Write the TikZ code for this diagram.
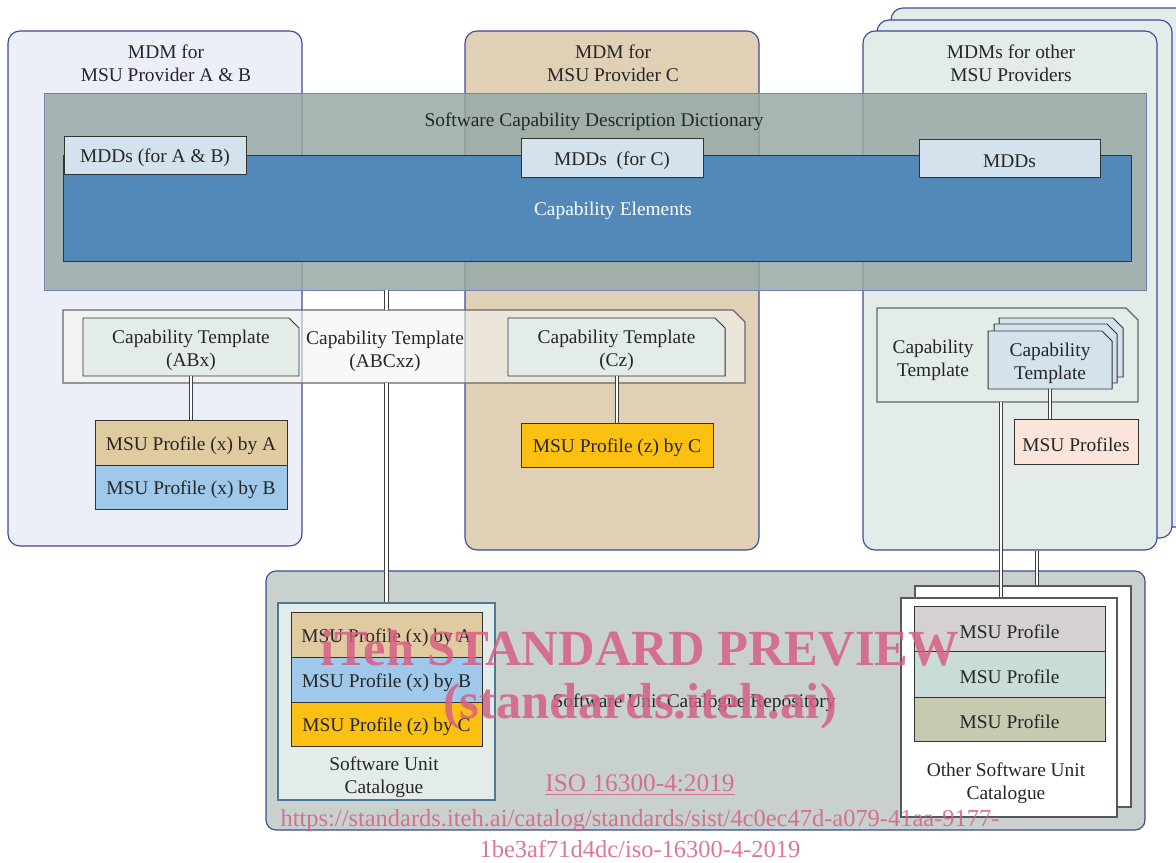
\documentclass[tikz,border=0pt]{standalone}
\usepackage{fontspec}
\setmainfont{Liberation Serif}
\usetikzlibrary{positioning,calc}

\definecolor{mdmline}{RGB}{62,72,150}
\definecolor{mdmabfill}{RGB}{236,239,247}
\definecolor{mdmcfill}{RGB}{224,208,182}
\definecolor{mdmofill}{RGB}{227,236,232}
\definecolor{dictfill}{RGB}{151,170,166}
\definecolor{capfill}{RGB}{82,137,184}
\definecolor{mddfill}{RGB}{211,226,236}
\definecolor{stripfill}{RGB}{244,245,242}
\definecolor{ctfill}{RGB}{227,236,232}
\definecolor{profa}{RGB}{224,203,160}
\definecolor{profb}{RGB}{159,200,234}
\definecolor{profc}{RGB}{251,192,18}
\definecolor{profs}{RGB}{251,229,218}
\definecolor{repofill}{RGB}{200,209,206}
\definecolor{sucline}{RGB}{75,122,155}
\definecolor{opa}{RGB}{213,209,208}
\definecolor{opb}{RGB}{201,220,215}
\definecolor{opc}{RGB}{199,202,177}
\definecolor{wmark}{RGB}{214,96,132}

% box from corner pixels: name, x1, y1, x2, y2, style, text
\newcommand\bx[7]{\node[#6,minimum width={(#4-#2)*0.025cm},minimum height={(#5-#3)*0.025cm}] (#1) at ({(#2+#4)/2},{(#3+#5)/2}) {};
  \node (#1-t) at ($(#1.center)+(0,3)$) {#7};}
% same with the top right corner cut off: name, x1, y1, x2, y2, cut, style, text
\newcommand\cbx[8]{\path[#7] (#2,#3) -- (#4-#6,#3) -- (#4,#3+#6) -- (#4,#5) -- (#2,#5) -- cycle;
  \bx{#1}{#2}{#3}{#4}{#5}{}{#8}}

\begin{document}
\begin{tikzpicture}[x=0.025cm,y=-0.025cm,
  every node/.style={font=\fontsize{13.8}{16.3}\selectfont,align=center,inner sep=0pt,text=black!85},
  mdm/.style={draw=mdmline,line width=0.8pt,rounded corners=0.3cm},
  box/.style={draw=black!80,line width=0.7pt},
  tpl/.style={draw=black!80,line width=0.7pt,fill=ctfill},
  link/.style={draw=black!75,double=white,double distance=1.9pt,line width=0.6pt},
  wm/.style={text=wmark,text opacity=0.85}]
\useasboundingbox (0,0) rectangle (1176,862);

% MDMs
\bx{mdmob}{891}{8}{1192}{527}{mdm,fill=mdmofill}{}
\bx{mdmom}{877}{20}{1172}{538}{mdm,fill=mdmofill}{}
\bx{mdmo}{863}{31}{1157}{550}{mdm,fill=mdmofill}{}
\bx{mdmab}{8}{31}{302}{546}{mdm,fill=mdmabfill}{}
\bx{mdmc}{465}{31}{759}{550}{mdm,fill=mdmcfill}{}
\node (mdmab-h) at (166,63) {MDM for\\MSU Provider A \& B};
\node (mdmc-h) at (613,63) {MDM for\\MSU Provider C};
\node (mdmo-h) at (1011,63) {MDMs for other\\MSU Providers};

% dictionary
\bx{dict}{44}{93}{1146}{290}{draw=mdmline!70,line width=0.6pt,fill=dictfill,fill opacity=0.85}{}
\node (dict-h) at (594,122) {Software Capability Description Dictionary};
\bx{capel}{63}{155}{1131}{261}{box,fill=capfill}{}
\node[text=white] (capel-h) at (613,211) {Capability Elements};
\bx{mdd1}{64}{136}{246}{174}{box,fill=mddfill}{MDDs (for A \& B)}
\bx{mdd2}{521}{138}{703}{177}{box,fill=mddfill}{MDDs~ (for C)}
\bx{mdd3}{919}{139}{1100}{177}{box,fill=mddfill}{MDDs}

% capability templates
\cbx{strip}{63}{310}{745}{383}{12}{draw=black!60,line width=0.9pt,fill=stripfill,fill opacity=0.6}{}
\node (strip-h) at (385,351) {Capability Template\\(ABCxz)};
\cbx{ctab}{83}{318}{299}{376}{10}{tpl}{Capability Template\\(ABx)}
\cbx{ctc}{508}{318}{725}{376}{10}{tpl}{Capability Template\\(Cz)}
\cbx{ctout}{877}{308}{1138}{402}{12}{draw=black!60,line width=0.9pt,fill=ctfill}{}
\node (ctout-h) at (933,360) {Capability\\Template};
\cbx{ctst3}{999}{318}{1123}{377}{10}{tpl,fill=mddfill}{}
\cbx{ctst2}{994}{324}{1117}{383}{10}{tpl,fill=mddfill}{}
\cbx{ctst}{988}{331}{1112}{389}{10}{tpl,fill=mddfill}{Capability\\Template}

% MSU profiles
\bx{profA}{95}{420}{287}{465}{box,fill=profa}{MSU Profile (x) by A}
\bx{profB}{95}{465}{287}{509}{box,fill=profb}{MSU Profile (x) by B}
\bx{profC}{521}{423}{713}{467}{box,fill=profc}{MSU Profile (z) by C}
\bx{msup}{1014}{419}{1138}{464}{box,fill=profs}{MSU Profiles}

% repository
\bx{repo}{266}{571}{1145}{830}{mdm,rounded corners=0.25cm,fill=repofill}{}
\node (repo-h) at (694,703) {Software Unit Catalogue Repository};
\bx{suc}{278}{603}{495}{800}{draw=sucline,line width=0.8pt,fill=ctfill}{}
\node (suc-h) at (384,777) {Software Unit\\Catalogue};
\bx{sucA}{291}{612}{482}{657}{box,fill=profa}{MSU Profile (x) by A}
\bx{sucB}{291}{657}{482}{702}{box,fill=profb}{MSU Profile (x) by B}
\bx{sucC}{291}{702}{482}{746}{box,fill=profc}{MSU Profile (z) by C}
\bx{osucb}{915}{586}{1131}{807}{draw=black!65,line width=0.8pt,fill=white}{}
\bx{osuc}{901}{598}{1117}{817}{draw=black!65,line width=0.8pt,fill=white}{}
\node (osuc-h) at (1006,783) {Other Software Unit\\Catalogue};
\bx{op1}{914}{606}{1105}{651}{box,fill=opa}{MSU Profile}
\bx{op2}{914}{651}{1105}{697}{box,fill=opb}{MSU Profile}
\bx{op3}{914}{697}{1105}{741}{box,fill=opc}{MSU Profile}

% links
\draw[link] (suc.north |- dict.south) -- (suc.north |- strip.north);
\draw[link] (suc.north |- strip.south) -- (suc.north);
\draw[link] (ctab.south -| profA.north) -- (profA.north);
\draw[link] (ctc.south -| profC.north) -- (profC.north);
\draw[link] (ctst.south) -- (ctst.south |- msup.north);
\draw[link] ($(ctout.south -| osuc.north)+(-8,0)$) -- ($(osuc.north)+(-8,0)$);
\draw[link] ($(mdmo.south -| osucb.north)+(14,0)$) -- ($(osucb.north)+(14,0)$);

% watermark
\node[wm,font=\fontsize{36}{36}\selectfont\bfseries] (wm1) at (640,648) {iTeh STANDARD PREVIEW};
\node[wm,font=\fontsize{36}{36}\selectfont\bfseries] (wm2) at (640,706) {(standards.iteh.ai)};
\node[wm,font=\fontsize{18}{18}\selectfont] (wm3) at (640,785) {\underline{ISO 16300-4:2019}};
\node[wm,font=\fontsize{17.4}{22}\selectfont] (wm4) at (640,834) {https://standards.iteh.ai/catalog/standards/sist/4c0ec47d-a079-41aa-9177-\\1be3af71d4dc/iso-16300-4-2019};
\end{tikzpicture}
\end{document}
